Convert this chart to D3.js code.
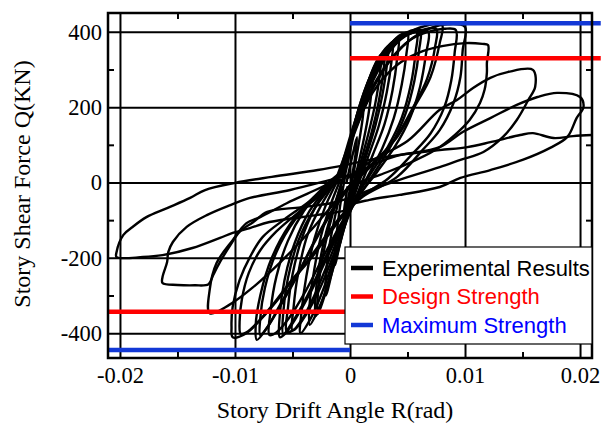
<!DOCTYPE html>
<html>
<head>
<meta charset="utf-8">
<script src="https://cdn.jsdelivr.net/npm/d3@7"></script>
<style>
  html, body { margin: 0; padding: 0; background: #fff; }
  svg { display: block; }
</style>
</head>
<body>
<div id="chart"></div>
<script>
/* Story shear force vs. drift angle — hysteresis loops */

var xTicks = [-0.02, -0.01, 0, 0.01, 0.02];
var xTickLabels = ['-0.02', '-0.01', '0', '0.01', '0.02'];
var xMinorTicks = [-0.015, -0.005, 0.005, 0.015];
var yTicks = [-400, -200, 0, 200, 400];
var yTickLabels = ['-400', '-200', '0', '200', '400'];
var yMinorTicks = [-300, -100, 100, 300];

// strength levels [positive side, negative side] in kN
var designStrength = [330, -343];
var maxStrength = [423, -445];

var legendLabels = ['Experimental Results', 'Design Strength', 'Maximum Strength'];

var cycle00 = [[-0.0003,0],[0.0002,70],[0.0006,120],[0.0005,80],[0.0002,20],[-0.0002,-50],[-0.0006,-110],[-0.0005,-70],[-0.0002,-10]];
var cycle01 = [[-0.0005,10],[0.0000,80],[0.0005,150],[0.0010,195],[0.0012,210],[0.0011,170],[0.0008,110],[0.0004,40],[0.0000,-30],[-0.0005,-110],[-0.0010,-180],[-0.0013,-220],[-0.0013,-180],[-0.0011,-120],[-0.0008,-50],[-0.0004,20]];
var cycle02 = [[-0.0006,20],[0.0000,100],[0.0007,190],[0.0014,255],[0.0020,295],[0.0019,250],[0.0016,180],[0.0011,100],[0.0005,20],[-0.0002,-60],[-0.0009,-150],[-0.0015,-230],[-0.0021,-300],[-0.0021,-250],[-0.0018,-170],[-0.0013,-90],[-0.0007,-10]];
var cycle03 = [[-0.0007,15],[0.0000,110],[0.0008,200],[0.0016,270],[0.0022,315],[0.0027,340],[0.0026,290],[0.0022,210],[0.0016,130],[0.0009,50],[0.0001,-40],[-0.0007,-130],[-0.0014,-210],[-0.0021,-290],[-0.0028,-350],[-0.0028,-300],[-0.0025,-220],[-0.0019,-130],[-0.0012,-50],[-0.0006,15]];
var cycle03b = [[-0.0006,15],[0.0001,115],[0.0009,205],[0.0017,275],[0.0024,320],[0.0030,345],[0.0029,295],[0.0025,215],[0.0019,135],[0.0011,55],[0.0003,-30],[-0.0005,-120],[-0.0013,-205],[-0.0021,-285],[-0.0026,-330],[-0.0030,-355],[-0.0030,-305],[-0.0027,-225],[-0.0021,-135],[-0.0013,-55],[-0.0006,10]];
var cycle04 = [[-0.0006,10],[0.0002,120],[0.0010,210],[0.0018,285],[0.0026,335],[0.0033,362],[0.0032,310],[0.0028,230],[0.0022,150],[0.0014,70],[0.0005,-20],[-0.0004,-110],[-0.0012,-200],[-0.0020,-280],[-0.0028,-340],[-0.0035,-378],[-0.0035,-320],[-0.0031,-230],[-0.0025,-140],[-0.0017,-60],[-0.0008,10]];
var cycle05 = [[-0.0007,15],[0.0002,130],[0.0012,230],[0.0021,305],[0.0030,350],[0.0037,373],[0.0036,320],[0.0032,240],[0.0025,150],[0.0016,70],[0.0006,-15],[-0.0004,-100],[-0.0014,-200],[-0.0024,-290],[-0.0034,-360],[-0.0043,-400],[-0.0042,-340],[-0.0038,-250],[-0.0031,-150],[-0.0021,-60],[-0.0010,10]];
var cycle05b = [[-0.0007,20],[0.0003,135],[0.0013,235],[0.0023,310],[0.0033,360],[0.0042,382],[0.0041,330],[0.0037,245],[0.0030,155],[0.0020,75],[0.0009,-10],[-0.0002,-95],[-0.0014,-190],[-0.0026,-280],[-0.0038,-350],[-0.0048,-390],[-0.0055,-395],[-0.0054,-335],[-0.0050,-245],[-0.0042,-150],[-0.0030,-65],[-0.0015,5]];
var cycle06 = [[-0.0008,20],[0.0003,140],[0.0014,245],[0.0025,320],[0.0036,370],[0.0044,392],[0.0050,397],[0.0049,340],[0.0045,260],[0.0038,170],[0.0028,90],[0.0016,20],[0.0004,-50],[-0.0008,-130],[-0.0020,-220],[-0.0031,-300],[-0.0042,-365],[-0.0050,-392],[-0.0049,-330],[-0.0045,-240],[-0.0037,-140],[-0.0025,-60],[-0.0012,5]];
var cycle07 = [[-0.0009,25],[0.0003,150],[0.0015,255],[0.0028,335],[0.0040,382],[0.0052,402],[0.0061,405],[0.0060,350],[0.0056,270],[0.0048,180],[0.0036,100],[0.0022,30],[0.0008,-35],[-0.0006,-110],[-0.0020,-200],[-0.0034,-290],[-0.0047,-360],[-0.0056,-400],[-0.0061,-411],[-0.0061,-350],[-0.0057,-260],[-0.0048,-160],[-0.0035,-75],[-0.0020,-15],[-0.0008,25]];
var cycle07b = [[-0.0008,20],[0.0004,150],[0.0016,258],[0.0029,336],[0.0041,380],[0.0051,396],[0.0058,398],[0.0057,345],[0.0053,262],[0.0045,172],[0.0033,95],[0.0019,28],[0.0005,-40],[-0.0009,-120],[-0.0023,-210],[-0.0037,-300],[-0.0050,-370],[-0.0058,-402],[-0.0058,-345],[-0.0054,-255],[-0.0045,-155],[-0.0031,-70],[-0.0016,-10]];
var cycle08 = [[-0.0008,20],[0.0004,150],[0.0017,260],[0.0031,338],[0.0045,385],[0.0058,400],[0.0068,400],[0.0066,340],[0.0061,255],[0.0052,170],[0.0039,95],[0.0024,30],[0.0009,-30],[-0.0006,-100],[-0.0022,-190],[-0.0038,-285],[-0.0053,-360],[-0.0064,-398],[-0.0070,-405],[-0.0069,-340],[-0.0064,-250],[-0.0054,-155],[-0.0040,-75],[-0.0024,-15],[-0.0009,25]];
var cycle09 = [[-0.0008,15],[0.0005,150],[0.0020,270],[0.0035,350],[0.0050,395],[0.0065,415],[0.0080,418],[0.0078,370],[0.0070,280],[0.0058,211],[0.0041,121],[0.0020,52],[0.0000,-7],[-0.0015,-70],[-0.0030,-150],[-0.0045,-240],[-0.0060,-320],[-0.0072,-385],[-0.0081,-418],[-0.0082,-380],[-0.0078,-300],[-0.0068,-200],[-0.0052,-110],[-0.0032,-40],[-0.0012,10]];
var cycle09b = [[-0.0009,20],[0.0004,150],[0.0018,265],[0.0033,345],[0.0048,388],[0.0063,405],[0.0075,408],[0.0074,360],[0.0067,275],[0.0055,200],[0.0039,115],[0.0019,45],[-0.0001,-15],[-0.0016,-80],[-0.0032,-165],[-0.0047,-255],[-0.0061,-330],[-0.0072,-385],[-0.0078,-405],[-0.0078,-360],[-0.0074,-280],[-0.0064,-185],[-0.0048,-100],[-0.0028,-35],[-0.0010,15]];
var cycle10 = [[-0.0010,15],[0.0005,140],[0.0020,250],[0.0038,335],[0.0055,385],[0.0070,410],[0.0085,420],[0.0100,413],[0.0098,352],[0.0096,280],[0.0090,211],[0.0078,139],[0.0063,86],[0.0041,15],[0.0011,-38],[-0.0005,-85],[-0.0020,-145],[-0.0035,-206],[-0.0050,-259],[-0.0063,-312],[-0.0078,-365],[-0.0090,-400],[-0.0102,-411],[-0.0103,-384],[-0.0102,-330],[-0.0096,-259],[-0.0087,-198],[-0.0076,-145],[-0.0058,-100],[-0.0035,-50],[-0.0015,0]];
var cycle10b = [[-0.0010,15],[0.0004,140],[0.0019,250],[0.0036,330],[0.0052,378],[0.0068,400],[0.0082,408],[0.0092,405],[0.0091,345],[0.0088,270],[0.0082,200],[0.0070,130],[0.0054,75],[0.0033,10],[0.0008,-40],[-0.0008,-90],[-0.0023,-150],[-0.0038,-212],[-0.0053,-268],[-0.0066,-320],[-0.0080,-370],[-0.0090,-398],[-0.0095,-402],[-0.0096,-370],[-0.0094,-310],[-0.0088,-240],[-0.0078,-180],[-0.0064,-130],[-0.0045,-80],[-0.0024,-30],[-0.0008,10]];
var cycle11 = [[-0.0012,10],[0.0003,130],[0.0020,240],[0.0040,310],[0.0060,345],[0.0080,362],[0.0100,370],[0.0115,368],[0.0120,365],[0.0119,317],[0.0119,291],[0.0117,246],[0.0113,211],[0.0104,166],[0.0091,126],[0.0074,86],[0.0052,52],[0.0026,20],[0.0000,-12],[-0.0015,-60],[-0.0035,-130],[-0.0060,-210],[-0.0085,-280],[-0.0105,-325],[-0.0122,-347],[-0.0122,-285],[-0.0116,-214],[-0.0102,-153],[-0.0090,-108],[-0.0078,-92],[-0.0055,-55],[-0.0030,-20],[-0.0010,10]];
var cycle12 = [[-0.0003,10],[0.0020,60],[0.0050,110],[0.0078,193],[0.0093,219],[0.0107,251],[0.0122,278],[0.0137,293],[0.0159,299],[0.0161,254],[0.0155,219],[0.0145,166],[0.0133,121],[0.0116,81],[0.0096,60],[0.0078,41],[0.0043,7],[0.0017,-20],[0.0000,-41],[-0.0017,-55],[-0.0043,-66],[-0.0072,-78],[-0.0084,-105],[-0.0096,-131],[-0.0104,-166],[-0.0113,-211],[-0.0119,-246],[-0.0123,-270],[-0.0135,-273],[-0.0150,-272],[-0.0163,-267],[-0.0163,-251],[-0.0159,-211],[-0.0158,-185],[-0.0154,-158],[-0.0142,-118],[-0.0124,-86],[-0.0104,-60],[-0.0087,-41],[-0.0052,-20],[-0.0017,7],[0.0000,20]];
var cycle13 = [[0.0000,10],[0.0015,40],[0.0040,70],[0.0078,94],[0.0098,134],[0.0122,171],[0.0145,206],[0.0163,227],[0.0180,238],[0.0200,227],[0.0203,200],[0.0197,171],[0.0189,121],[0.0174,92],[0.0150,60],[0.0122,33],[0.0096,12],[0.0078,-12],[0.0043,-33],[0.0017,-46],[0.0000,-60],[-0.0004,-73],[-0.0028,-86],[-0.0070,-105],[-0.0087,-121],[-0.0102,-134],[-0.0113,-147],[-0.0137,-174],[-0.0163,-193],[-0.0180,-198],[-0.0203,-198],[-0.0203,-185],[-0.0197,-139],[-0.0189,-118],[-0.0177,-92],[-0.0159,-68],[-0.0139,-41],[-0.0126,-20],[-0.0100,-1],[-0.0068,15],[-0.0028,33],[-0.0004,46]];
var finalPush = [[-0.0004,46],[0.0017,60],[0.0043,73],[0.0078,86],[0.0102,94],[0.0122,107],[0.0148,126],[0.0159,131],[0.0177,118],[0.0194,123],[0.0211,126]];

var cycles = [cycle00, cycle01, cycle02, cycle03, cycle03b, cycle04, cycle05, cycle05b,
              cycle06, cycle07, cycle07b, cycle08, cycle09, cycle09b, cycle10, cycle10b,
              cycle11, cycle12, cycle13, finalPush];

var W = 601, H = 425;
var plot = { left: 108, right: 592, top: 13, bottom: 358 };

var svg = d3.select('#chart').append('svg')
  .attr('width', W).attr('height', H);

var x = d3.scaleLinear().domain([-0.02104, 0.02104]).range([plot.left, plot.right]);
var y = d3.scaleLinear().domain([-466, 450]).range([plot.bottom, plot.top]);
var plotH = plot.bottom - plot.top;
var plotW = plot.right - plot.left;

svg.append('defs').append('clipPath').attr('id', 'plot-clip')
  .append('rect')
  .attr('x', plot.left).attr('y', plot.top)
  .attr('width', plotW).attr('height', plotH);

function styleLines(g, w) {
  g.select('.domain').remove();
  g.selectAll('line').attr('stroke', '#000').attr('stroke-width', w);
}

// grid lines at major ticks
svg.append('g')
  .attr('transform', 'translate(0,' + plot.bottom + ')')
  .call(d3.axisBottom(x).tickValues(xTicks).tickSize(-plotH).tickFormat(''))
  .call(function(g) { styleLines(g, 2); });
svg.append('g')
  .attr('transform', 'translate(' + plot.left + ',0)')
  .call(d3.axisLeft(y).tickValues(yTicks).tickSize(-plotW).tickFormat(''))
  .call(function(g) { styleLines(g, 2); });

// hysteresis curves
var line = d3.line()
  .x(function(d) { return x(d[0]); })
  .y(function(d) { return y(d[1]); })
  .curve(d3.curveCatmullRom.alpha(0.5));

svg.append('g')
  .attr('clip-path', 'url(#plot-clip)')
  .selectAll('path')
  .data(cycles)
  .enter().append('path')
  .attr('d', line)
  .attr('fill', 'none')
  .attr('stroke', '#000')
  .attr('stroke-width', 2.4)
  .attr('stroke-linejoin', 'round');

// strength levels
var RED = '#ff0000', BLUE = '#1238d6';
function levelLine(q, x0, x1, color) {
  svg.append('line')
    .attr('x1', x(x0)).attr('x2', x(x1))
    .attr('y1', y(q)).attr('y2', y(q))
    .attr('stroke', color).attr('stroke-width', 4.5);
}
levelLine(designStrength[0], 0, 0.0218, RED);
levelLine(maxStrength[0], 0, 0.0218, BLUE);
levelLine(designStrength[1], -0.02104, 0, RED);
levelLine(maxStrength[1], -0.02104, 0, BLUE);

// minor ticks, pointing inward on every side
svg.append('g').attr('transform', 'translate(0,' + plot.bottom + ')')
  .call(d3.axisBottom(x).tickValues(xMinorTicks).tickSize(-6).tickFormat(''))
  .call(function(g) { styleLines(g, 2); });
svg.append('g').attr('transform', 'translate(0,' + plot.top + ')')
  .call(d3.axisTop(x).tickValues(xMinorTicks).tickSize(-6).tickFormat(''))
  .call(function(g) { styleLines(g, 2); });
svg.append('g').attr('transform', 'translate(' + plot.left + ',0)')
  .call(d3.axisLeft(y).tickValues(yMinorTicks).tickSize(-6).tickFormat(''))
  .call(function(g) { styleLines(g, 2); });
svg.append('g').attr('transform', 'translate(' + plot.right + ',0)')
  .call(d3.axisRight(y).tickValues(yMinorTicks).tickSize(-6).tickFormat(''))
  .call(function(g) { styleLines(g, 2); });

// frame
svg.append('rect')
  .attr('x', plot.left).attr('y', plot.top)
  .attr('width', plotW).attr('height', plotH)
  .attr('fill', 'none').attr('stroke', '#000').attr('stroke-width', 2.5);

// tick labels
var SERIF = '"Liberation Serif", "Times New Roman", serif';
svg.append('g').attr('transform', 'translate(0,' + plot.bottom + ')')
  .call(d3.axisBottom(x).tickValues(xTicks).tickSize(0).tickPadding(9)
    .tickFormat(function(d, i) { return xTickLabels[i]; }))
  .call(function(g) {
    g.select('.domain').remove();
    g.selectAll('text').attr('font-family', SERIF).attr('font-size', 22.5).attr('fill', '#000');
  });
svg.append('g').attr('transform', 'translate(' + plot.left + ',0)')
  .call(d3.axisLeft(y).tickValues(yTicks).tickSize(0).tickPadding(6)
    .tickFormat(function(d, i) { return yTickLabels[i]; }))
  .call(function(g) {
    g.select('.domain').remove();
    g.selectAll('text').attr('font-family', SERIF).attr('font-size', 22.5).attr('fill', '#000');
  });

// axis titles
svg.append('text')
  .attr('x', 335).attr('y', 418)
  .attr('text-anchor', 'middle')
  .attr('font-family', SERIF).attr('font-size', 24)
  .text('Story Drift Angle R(rad)');
svg.append('text')
  .attr('transform', 'translate(30,184) rotate(-90)')
  .attr('text-anchor', 'middle')
  .attr('font-family', SERIF).attr('font-size', 24)
  .text('Story Shear Force Q(KN)');

// legend
var legend = svg.append('g');
legend.append('rect')
  .attr('x', 345).attr('y', 247).attr('width', 247).attr('height', 97)
  .attr('fill', '#fff').attr('stroke', '#000').attr('stroke-width', 1.2);
var legendColors = ['#000', RED, BLUE];
var legendText = ['#000', RED, '#0000ff'];
legendLabels.forEach(function(label, i) {
  var cy = 268 + i * 28.5;
  legend.append('line')
    .attr('x1', 351).attr('x2', 373).attr('y1', cy).attr('y2', cy)
    .attr('stroke', legendColors[i]).attr('stroke-width', 4.5);
  legend.append('text')
    .attr('x', 382).attr('y', cy + 7.5)
    .attr('font-family', '"Liberation Sans", Arial, sans-serif')
    .attr('font-size', 22)
    .attr('fill', legendText[i])
    .text(label);
});
</script>
</body>
</html>
